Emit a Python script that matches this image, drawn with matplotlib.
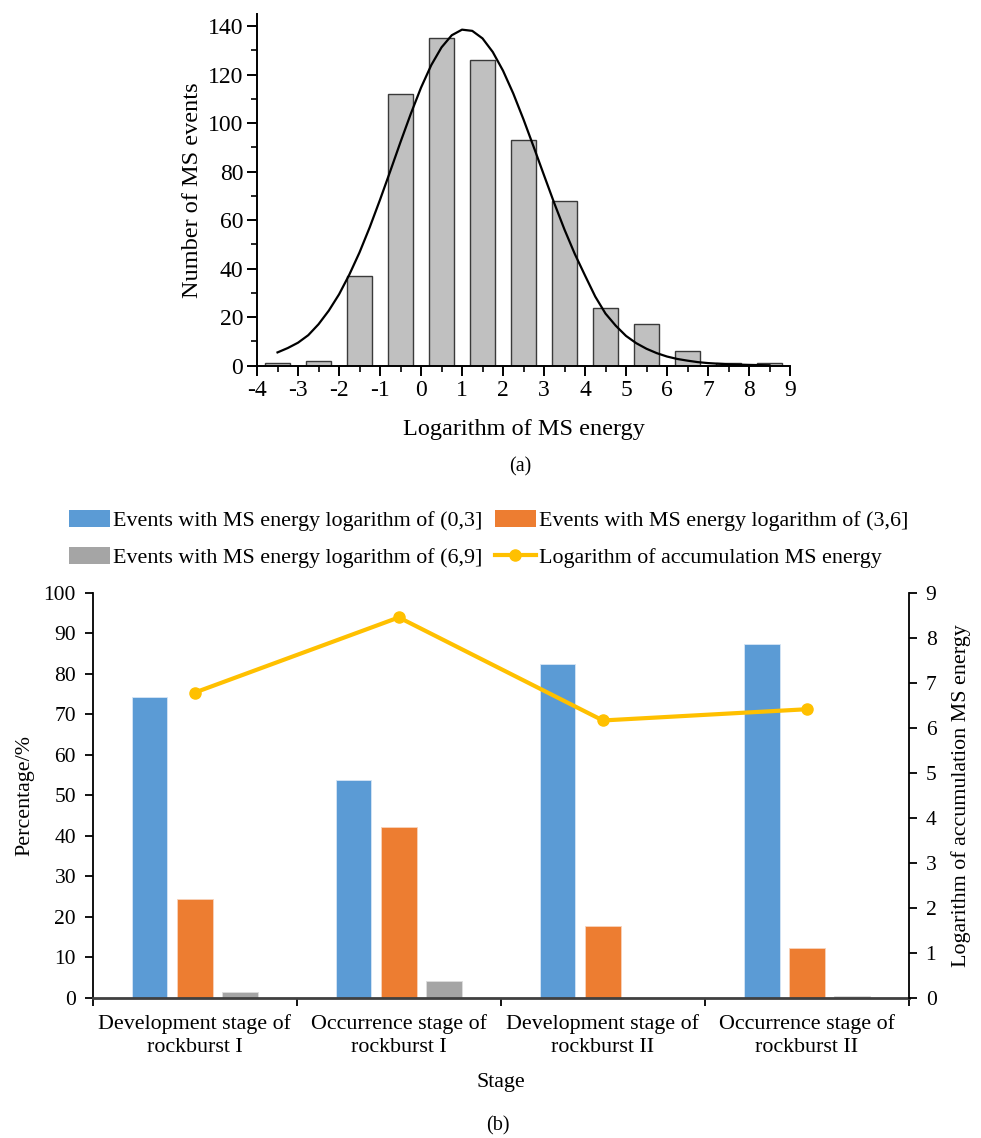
import numpy as np
import matplotlib
matplotlib.use("Agg")
import matplotlib.pyplot as plt
from matplotlib.ticker import MultipleLocator
from matplotlib.lines import Line2D
from matplotlib.patches import Patch

plt.rcParams['font.family'] = ['Liberation Serif', 'DejaVu Serif']
plt.rcParams['axes.unicode_minus'] = False

# --- (a) histogram data ---
bin_centers = [-3.5, -2.5, -1.5, -0.5, 0.5, 1.5, 2.5, 3.5, 4.5, 5.5, 6.5, 7.5, 8.5]
event_counts = [1, 2, 37, 112, 135, 126, 93, 68, 24, 17, 6, 1, 1]

# fitted curve
curve_x = [-3.5, -3.25, -3.0, -2.75, -2.5, -2.25, -2.0, -1.75, -1.5, -1.25, -1.0, -0.75,
           -0.5, -0.25, 0.0, 0.25, 0.5, 0.75, 1.0, 1.25, 1.5, 1.75, 2.0, 2.25, 2.5, 2.75,
           3.0, 3.25, 3.5, 3.75, 4.0, 4.25, 4.5, 4.75, 5.0, 5.25, 5.5, 5.75, 6.0, 6.25,
           6.5, 6.75, 7.0, 7.5, 8.0, 8.5]
curve_y = [5.5, 7.3, 9.5, 12.6, 17.1, 22.7, 29.4, 37.5, 46.7, 57.1, 68.4, 80.2,
           92.2, 103.8, 114.6, 123.9, 131.2, 136.2, 138.5, 138.0, 134.9, 129.3, 121.6, 112.2, 101.5, 90.1,
           78.5, 67.0, 56.1, 46.1, 37.2, 28.5, 21.5, 16.5, 12.3, 9.3, 7.0, 5.2, 3.8, 2.8,
           2.1, 1.5, 1.1, 0.6, 0.35, 0.2]

# --- (b) stage data ---
stages = ["Development stage of\nrockburst I", "Occurrence stage of\nrockburst I",
          "Development stage of\nrockburst II", "Occurrence stage of\nrockburst II"]
pct_0_3 = [74.3, 53.8, 82.3, 87.3]
pct_3_6 = [24.3, 42.1, 17.6, 12.2]
pct_6_9 = [1.4, 4.1, 0.0, 0.5]
log_acc_energy = [6.78, 8.45, 6.16, 6.41]

fig = plt.figure(figsize=(9.81, 11.38), dpi=100)

# ---------------- (a) ----------------
ax1 = fig.add_axes([0.262, 0.6786, 0.5433, 0.3092])
ax1.bar(bin_centers, event_counts, width=0.6, color='#C0C0C0', edgecolor='#3a3a3a', linewidth=1.0, zorder=2)
ax1.plot(curve_x, curve_y, color='black', linewidth=1.6, zorder=3)
ax1.set_xlim(-4, 9)
ax1.set_ylim(0, 145)
ax1.set_xticks(range(-4, 10))
ax1.set_yticks(range(0, 141, 20))
ax1.xaxis.set_minor_locator(MultipleLocator(0.5))
ax1.yaxis.set_minor_locator(MultipleLocator(10))
for s in ['top', 'right']:
    ax1.spines[s].set_visible(False)
for s in ['left', 'bottom']:
    ax1.spines[s].set_linewidth(1.4)
ax1.tick_params(which='major', direction='out', length=7, width=1.4, labelsize=17, pad=3)
ax1.tick_params(which='minor', direction='out', length=4, width=1.2)
ax1.set_xlabel("Logarithm of MS energy", fontsize=17.5)
ax1.set_ylabel("Number of MS events", fontsize=17.5)
ax1.xaxis.set_label_coords(0.5, -0.151)
ax1.yaxis.set_label_coords(-0.101, 0.5)
fig.text(0.530, 1 - 467 / 1138, "(a)", ha='center', va='center', fontsize=14.5)

# ---------------- (b) ----------------
ax2 = fig.add_axes([0.0945, 0.1233, 0.8321, 0.3559])
x = np.arange(len(stages))
w = 0.175
off = 0.222
ax2.bar(x - off, pct_0_3, width=w, color='#5B9BD5', edgecolor='#d6e6f5', linewidth=0.6, zorder=2)
ax2.bar(x, pct_3_6, width=w, color='#ED7D31', edgecolor='#f8d3bb', linewidth=0.6, zorder=2)
ax2.bar(x + off, pct_6_9, width=w, color='#A5A5A5', edgecolor='#dddddd', linewidth=0.6, zorder=2)
ax2.set_xlim(-0.5, len(stages) - 0.5)
ax2.set_ylim(0, 100)
ax2.set_yticks(range(0, 101, 10))
ax2.set_xticks(x)
ax2.set_xticklabels(stages, fontsize=15.8, linespacing=1.3)
ax2.set_xticks(np.arange(-0.5, len(stages)), minor=True)
ax2.tick_params(axis='x', which='major', length=0, pad=12)
ax2.tick_params(axis='x', which='minor', length=6, width=1.3, direction='out')
ax2.tick_params(axis='y', which='major', length=6, width=1.3, direction='out', labelsize=15.5, pad=6)
for s in ['top', 'right']:
    ax2.spines[s].set_visible(False)
ax2.spines['left'].set_linewidth(1.3)
ax2.spines['bottom'].set_linewidth(2.0)
ax2.spines['bottom'].set_color('#404040')
ax2.set_xlabel("Stage", fontsize=15.8)
ax2.set_ylabel("Percentage/%", fontsize=15.8)
ax2.xaxis.set_label_coords(0.5, -0.186)
ax2.yaxis.set_label_coords(-0.072, 0.5)

ax3 = ax2.twinx()
ax3.plot(x, log_acc_energy, color='#FFC000', linewidth=3.0, marker='o', markersize=8, zorder=4)
ax3.set_ylim(0, 9)
ax3.set_yticks(range(0, 10))
for s in ['top', 'left', 'bottom']:
    ax3.spines[s].set_visible(False)
ax3.spines['right'].set_linewidth(1.3)
ax3.tick_params(axis='y', length=6, width=1.3, direction='out', labelsize=15.5, pad=6)
ax3.set_ylabel("Logarithm of accumulation MS energy", fontsize=15.8)
ax3.yaxis.set_label_coords(1.051, 0.5)

handles = [
    Patch(facecolor='#5B9BD5', edgecolor='none'),
    Patch(facecolor='#A5A5A5', edgecolor='none'),
    Patch(facecolor='#ED7D31', edgecolor='none'),
    Line2D([], [], color='#FFC000', linewidth=3.0, marker='o', markersize=8),
]
labels = [
    "Events with MS energy logarithm of (0,3]",
    "Events with MS energy logarithm of (6,9]",
    "Events with MS energy logarithm of (3,6]",
    "Logarithm of accumulation MS energy",
]
fig.legend(handles, labels, ncol=2, loc='center', bbox_to_anchor=(0.498, 1 - 539 / 1138),
           frameon=False, fontsize=15.8, handlelength=1.9, handleheight=0.8, handletextpad=0.12,
           columnspacing=0.55, labelspacing=0.75)

fig.text(0.508, 1 - 1126 / 1138, "(b)", ha='center', va='center', fontsize=14.5)

fig.savefig("out.png", dpi=100)
